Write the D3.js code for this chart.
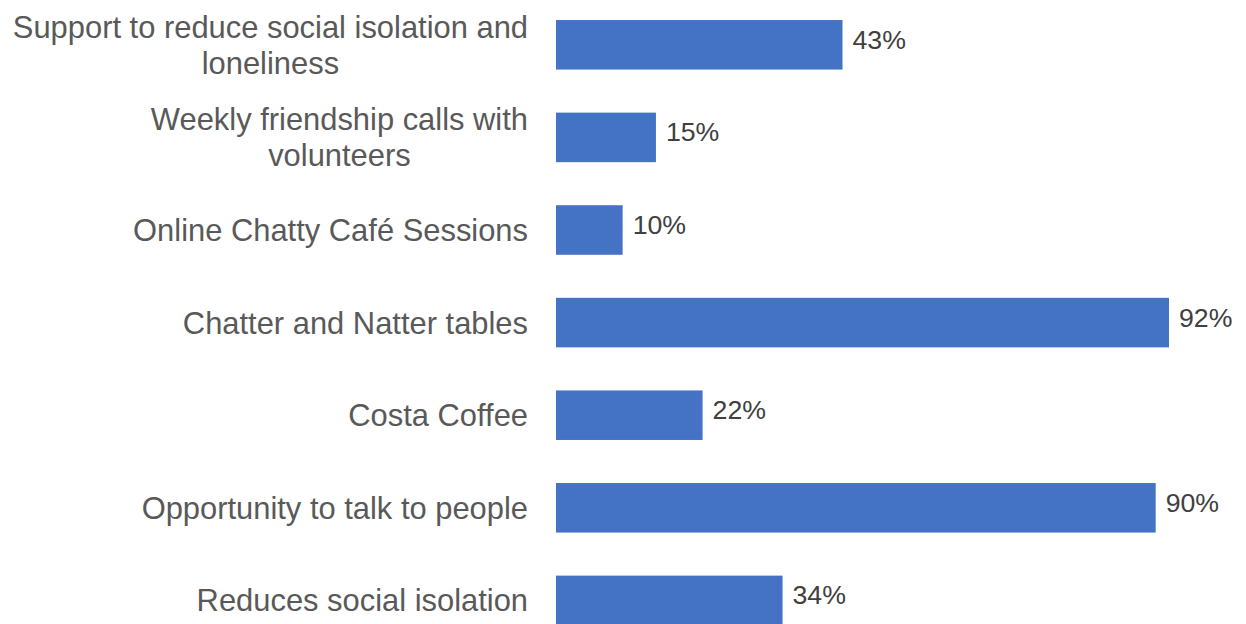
<!DOCTYPE html>
<html>
<head>
<meta charset="utf-8">
<script src="https://cdn.jsdelivr.net/npm/d3@7"></script>
<style>
  html, body { margin: 0; padding: 0; background: #ffffff; }
  svg { display: block; }
</style>
</head>
<body>
<div id="chart"></div>
<script>
// Share of respondents citing each aspect of the service
const categories = [
  "Support to reduce social isolation and loneliness",
  "Weekly friendship calls with volunteers",
  "Online Chatty Café Sessions",
  "Chatter and Natter tables",
  "Costa Coffee",
  "Opportunity to talk to people",
  "Reduces social isolation"
];
const values = [43, 15, 10, 92, 22, 90, 34];

const width = 1246, height = 624;
const rows = categories.map((c, i) => ({ category: c, value: values[i] }));

const svg = d3.select("#chart").append("svg")
  .attr("width", width)
  .attr("height", height);

const x = d3.scaleLinear().domain([0, 100]).range([556, 1222.3]);
const y = d3.scaleBand()
  .domain(categories)
  .range([-1.5, -1.5 + 7 * 92.6])
  .paddingInner(0.465)
  .paddingOuter(0.2325);

// Bars
svg.append("g").selectAll("rect")
  .data(rows)
  .join("rect")
  .attr("x", x(0))
  .attr("y", d => y(d.category))
  .attr("width", d => x(d.value) - x(0))
  .attr("height", y.bandwidth())
  .attr("fill", "#4472C4");

// Value labels
svg.append("g").selectAll("text")
  .data(rows)
  .join("text")
  .attr("x", d => x(d.value) + 10)
  .attr("y", d => y(d.category) + y.bandwidth() / 2 + 4)
  .attr("font-family", "'Liberation Sans', Arial, sans-serif")
  .attr("font-size", 26.7)
  .attr("fill", "#404040")
  .text(d => d.value + "%");

// Category labels, wrapped and centred line-by-line like an Office axis
const labelRight = 528;
const maxWidth = 525;
const fontSize = 30.9;
const lineHeight = 36;

const labelG = svg.append("g")
  .attr("font-family", "'Liberation Sans', Arial, sans-serif")
  .attr("font-size", fontSize)
  .attr("fill", "#595959");

const measurer = labelG.append("text").attr("visibility", "hidden");
function measure(s) {
  measurer.text(s);
  return measurer.node().getComputedTextLength();
}

function wrap(str) {
  const words = str.split(" ");
  const lines = [];
  let line = "";
  words.forEach(w => {
    const test = line ? line + " " + w : w;
    if (line && measure(test) > maxWidth) {
      lines.push(line);
      line = w;
    } else {
      line = test;
    }
  });
  if (line) lines.push(line);
  return lines;
}

rows.forEach(d => {
  const lines = wrap(d.category);
  const widths = lines.map(measure);
  const blockW = d3.max(widths);
  const cx = labelRight - blockW / 2;
  const cy = y(d.category) + y.bandwidth() / 2;
  const capHalf = fontSize * 0.716 / 2;
  const firstBase = cy - (lines.length - 1) * lineHeight / 2 + capHalf;
  const t = labelG.append("text").attr("text-anchor", lines.length > 1 ? "middle" : "end");
  lines.forEach((ln, i) => {
    t.append("tspan")
      .attr("x", lines.length > 1 ? cx : labelRight)
      .attr("y", firstBase + i * lineHeight)
      .text(ln);
  });
});
measurer.remove();
</script>
</body>
</html>
